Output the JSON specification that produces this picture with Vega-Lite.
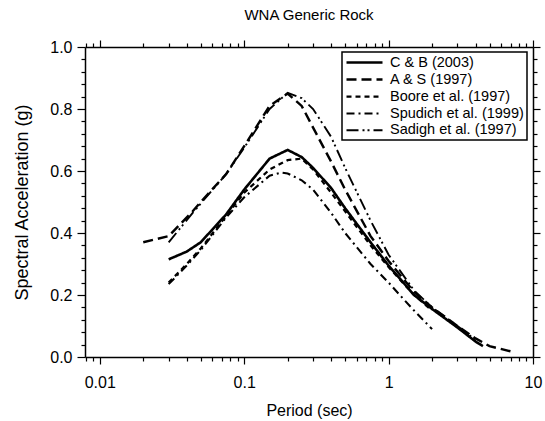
{
  "$schema": "https://vega.github.io/schema/vega-lite/v6.json",
  "width": 448,
  "height": 310,
  "autosize": {"type": "none"},
  "padding": {"left": 85, "top": 47, "right": 12, "bottom": 64},
  "background": "white",
  "config": {
    "view": {"stroke": null},
    "font": "Liberation Sans",
    "axis": {"domainColor": "black", "domainWidth": 1.5, "tickColor": "black", "tickWidth": 1.2, "grid": false, "labelColor": "black", "titleColor": "black", "labelFont": "Liberation Sans", "titleFont": "Liberation Sans", "titleFontWeight": "normal"},
    "legend": {"strokeWidth": 1.5}
  },
  "title": {"text": "WNA Generic Rock", "fontSize": 15, "fontWeight": "normal", "font": "Liberation Sans", "color": "black", "anchor": "middle", "offset": 16},
  "data": {"values": [
    {"model": "C & B (2003)", "T": 0.03, "SA": 0.315},
    {"model": "C & B (2003)", "T": 0.04, "SA": 0.34},
    {"model": "C & B (2003)", "T": 0.05, "SA": 0.37},
    {"model": "C & B (2003)", "T": 0.075, "SA": 0.46},
    {"model": "C & B (2003)", "T": 0.1, "SA": 0.54},
    {"model": "C & B (2003)", "T": 0.15, "SA": 0.64},
    {"model": "C & B (2003)", "T": 0.2, "SA": 0.668},
    {"model": "C & B (2003)", "T": 0.25, "SA": 0.645},
    {"model": "C & B (2003)", "T": 0.3, "SA": 0.61},
    {"model": "C & B (2003)", "T": 0.4, "SA": 0.545},
    {"model": "C & B (2003)", "T": 0.5, "SA": 0.48},
    {"model": "C & B (2003)", "T": 0.75, "SA": 0.37},
    {"model": "C & B (2003)", "T": 1, "SA": 0.295},
    {"model": "C & B (2003)", "T": 1.5, "SA": 0.2},
    {"model": "C & B (2003)", "T": 2, "SA": 0.155},
    {"model": "C & B (2003)", "T": 3, "SA": 0.095},
    {"model": "C & B (2003)", "T": 4, "SA": 0.05},
    {"model": "C & B (2003)", "T": 4.5, "SA": 0.035},
    {"model": "A & S (1997)", "T": 0.02, "SA": 0.37},
    {"model": "A & S (1997)", "T": 0.03, "SA": 0.39},
    {"model": "A & S (1997)", "T": 0.044, "SA": 0.47},
    {"model": "A & S (1997)", "T": 0.05, "SA": 0.5},
    {"model": "A & S (1997)", "T": 0.075, "SA": 0.59},
    {"model": "A & S (1997)", "T": 0.1, "SA": 0.68},
    {"model": "A & S (1997)", "T": 0.15, "SA": 0.81},
    {"model": "A & S (1997)", "T": 0.2, "SA": 0.85},
    {"model": "A & S (1997)", "T": 0.25, "SA": 0.81},
    {"model": "A & S (1997)", "T": 0.3, "SA": 0.74},
    {"model": "A & S (1997)", "T": 0.4, "SA": 0.63},
    {"model": "A & S (1997)", "T": 0.5, "SA": 0.54},
    {"model": "A & S (1997)", "T": 0.75, "SA": 0.39},
    {"model": "A & S (1997)", "T": 1, "SA": 0.31},
    {"model": "A & S (1997)", "T": 1.5, "SA": 0.21},
    {"model": "A & S (1997)", "T": 2, "SA": 0.16},
    {"model": "A & S (1997)", "T": 3, "SA": 0.1},
    {"model": "A & S (1997)", "T": 4, "SA": 0.06},
    {"model": "A & S (1997)", "T": 5, "SA": 0.035},
    {"model": "A & S (1997)", "T": 7.5, "SA": 0.015},
    {"model": "Boore et al. (1997)", "T": 0.03, "SA": 0.24},
    {"model": "Boore et al. (1997)", "T": 0.04, "SA": 0.3},
    {"model": "Boore et al. (1997)", "T": 0.05, "SA": 0.35},
    {"model": "Boore et al. (1997)", "T": 0.075, "SA": 0.455},
    {"model": "Boore et al. (1997)", "T": 0.1, "SA": 0.53},
    {"model": "Boore et al. (1997)", "T": 0.15, "SA": 0.605},
    {"model": "Boore et al. (1997)", "T": 0.2, "SA": 0.635},
    {"model": "Boore et al. (1997)", "T": 0.25, "SA": 0.64},
    {"model": "Boore et al. (1997)", "T": 0.3, "SA": 0.605},
    {"model": "Boore et al. (1997)", "T": 0.4, "SA": 0.53},
    {"model": "Boore et al. (1997)", "T": 0.5, "SA": 0.47},
    {"model": "Boore et al. (1997)", "T": 0.75, "SA": 0.36},
    {"model": "Boore et al. (1997)", "T": 1, "SA": 0.29},
    {"model": "Boore et al. (1997)", "T": 1.5, "SA": 0.2},
    {"model": "Boore et al. (1997)", "T": 2, "SA": 0.15},
    {"model": "Spudich et al. (1999)", "T": 0.03, "SA": 0.235},
    {"model": "Spudich et al. (1999)", "T": 0.04, "SA": 0.295},
    {"model": "Spudich et al. (1999)", "T": 0.05, "SA": 0.345},
    {"model": "Spudich et al. (1999)", "T": 0.075, "SA": 0.45},
    {"model": "Spudich et al. (1999)", "T": 0.1, "SA": 0.515},
    {"model": "Spudich et al. (1999)", "T": 0.15, "SA": 0.585},
    {"model": "Spudich et al. (1999)", "T": 0.18, "SA": 0.595},
    {"model": "Spudich et al. (1999)", "T": 0.2, "SA": 0.592},
    {"model": "Spudich et al. (1999)", "T": 0.25, "SA": 0.57},
    {"model": "Spudich et al. (1999)", "T": 0.3, "SA": 0.54},
    {"model": "Spudich et al. (1999)", "T": 0.4, "SA": 0.465},
    {"model": "Spudich et al. (1999)", "T": 0.5, "SA": 0.4},
    {"model": "Spudich et al. (1999)", "T": 0.75, "SA": 0.3},
    {"model": "Spudich et al. (1999)", "T": 1, "SA": 0.24},
    {"model": "Spudich et al. (1999)", "T": 1.25, "SA": 0.19},
    {"model": "Spudich et al. (1999)", "T": 1.5, "SA": 0.15},
    {"model": "Spudich et al. (1999)", "T": 2, "SA": 0.09},
    {"model": "Sadigh et al. (1997)", "T": 0.03, "SA": 0.37},
    {"model": "Sadigh et al. (1997)", "T": 0.044, "SA": 0.465},
    {"model": "Sadigh et al. (1997)", "T": 0.05, "SA": 0.495},
    {"model": "Sadigh et al. (1997)", "T": 0.075, "SA": 0.59},
    {"model": "Sadigh et al. (1997)", "T": 0.1, "SA": 0.675},
    {"model": "Sadigh et al. (1997)", "T": 0.15, "SA": 0.8},
    {"model": "Sadigh et al. (1997)", "T": 0.2, "SA": 0.852},
    {"model": "Sadigh et al. (1997)", "T": 0.25, "SA": 0.835},
    {"model": "Sadigh et al. (1997)", "T": 0.3, "SA": 0.8},
    {"model": "Sadigh et al. (1997)", "T": 0.4, "SA": 0.71},
    {"model": "Sadigh et al. (1997)", "T": 0.5, "SA": 0.61},
    {"model": "Sadigh et al. (1997)", "T": 0.75, "SA": 0.44},
    {"model": "Sadigh et al. (1997)", "T": 1, "SA": 0.33},
    {"model": "Sadigh et al. (1997)", "T": 1.5, "SA": 0.215},
    {"model": "Sadigh et al. (1997)", "T": 2, "SA": 0.16},
    {"model": "Sadigh et al. (1997)", "T": 3, "SA": 0.1},
    {"model": "Sadigh et al. (1997)", "T": 4, "SA": 0.055}
  ]},
  "resolve": {"axis": {"x": "independent", "y": "independent"}},
  "layer": [
    {
      "mark": {"type": "line", "color": "black", "strokeCap": "butt"},
      "encoding": {
        "x": {"field": "T", "type": "quantitative", "scale": {"type": "log", "domain": [0.0079, 10], "nice": false},
              "axis": {"orient": "bottom", "title": "Period (sec)", "values": [0.01, 0.1, 1, 10], "format": "~g", "tickSize": 7, "labelFontSize": 16, "labelPadding": 10, "titleFontSize": 16, "titlePadding": 12, "labelOverlap": false, "labelFlush": false}},
        "y": {"field": "SA", "type": "quantitative", "scale": {"domain": [0, 1], "nice": false},
              "axis": {"orient": "left", "title": "Spectral Acceleration (g)", "values": [0, 0.2, 0.4, 0.6, 0.8, 1.0], "format": ".1f", "tickSize": 8, "labelFontSize": 16, "labelPadding": 5, "titleFontSize": 18, "titlePadding": 18, "labelOverlap": false, "labelFlush": false}},
        "strokeDash": {"field": "model", "type": "nominal",
          "scale": {"domain": ["C & B (2003)", "A & S (1997)", "Boore et al. (1997)", "Spudich et al. (1999)", "Sadigh et al. (1997)"],
                    "range": [[1, 0], [10, 5], [5, 4], [8, 4, 2, 4], [12, 4, 2, 3, 2, 4]]},
          "legend": {"title": null, "orient": "none", "legendX": 257, "legendY": 5, "symbolType": "M-3,0H3", "symbolSize": 144, "symbolOffset": 12, "symbolStrokeWidth": 2, "symbolStrokeColor": "black", "symbolFillColor": "transparent", "labelFontSize": 14.5, "labelFont": "Liberation Sans", "labelColor": "black", "labelOffset": 18, "strokeColor": "black", "fillColor": "white", "padding": 3, "rowPadding": 2, "cornerRadius": 0}},
        "strokeWidth": {"field": "model", "type": "nominal",
          "scale": {"domain": ["C & B (2003)", "A & S (1997)", "Boore et al. (1997)", "Spudich et al. (1999)", "Sadigh et al. (1997)"], "range": [2.6, 1.9, 1.9, 1.9, 1.9]},
          "legend": null}
      }
    },
    {
      "mark": {"type": "point", "opacity": 0},
      "encoding": {
        "x": {"field": "T", "type": "quantitative", "scale": {"type": "log", "domain": [0.0079, 10], "nice": false},
              "axis": {"orient": "bottom", "title": null, "labels": false, "domain": false, "tickSize": 4, "values": [0.008, 0.009, 0.02, 0.03, 0.04, 0.05, 0.06, 0.07, 0.08, 0.09, 0.2, 0.3, 0.4, 0.5, 0.6, 0.7, 0.8, 0.9, 2, 3, 4, 5, 6, 7, 8, 9]}},
        "y": {"field": "SA", "type": "quantitative", "scale": {"domain": [0, 1], "nice": false},
              "axis": {"orient": "left", "title": null, "labels": false, "domain": false, "tickSize": 4, "values": [0.04, 0.08, 0.12, 0.16, 0.24, 0.28, 0.32, 0.36, 0.44, 0.48, 0.52, 0.56, 0.64, 0.68, 0.72, 0.76, 0.84, 0.88, 0.92, 0.96]}}
      }
    },
    {
      "mark": {"type": "point", "opacity": 0},
      "encoding": {
        "x": {"field": "T", "type": "quantitative", "scale": {"type": "log", "domain": [0.0079, 10], "nice": false},
              "axis": {"orient": "top", "title": null, "labels": false, "tickSize": 7, "values": [0.01, 0.1, 1, 10]}},
        "y": {"field": "SA", "type": "quantitative", "scale": {"domain": [0, 1], "nice": false},
              "axis": {"orient": "right", "title": null, "labels": false, "tickSize": 7, "values": [0, 0.2, 0.4, 0.6, 0.8, 1.0]}}
      }
    },
    {
      "mark": {"type": "point", "opacity": 0},
      "encoding": {
        "x": {"field": "T", "type": "quantitative", "scale": {"type": "log", "domain": [0.0079, 10], "nice": false},
              "axis": {"orient": "top", "title": null, "labels": false, "domain": false, "tickSize": 4, "values": [0.008, 0.009, 0.02, 0.03, 0.04, 0.05, 0.06, 0.07, 0.08, 0.09, 0.2, 0.3, 0.4, 0.5, 0.6, 0.7, 0.8, 0.9, 2, 3, 4, 5, 6, 7, 8, 9]}},
        "y": {"field": "SA", "type": "quantitative", "scale": {"domain": [0, 1], "nice": false},
              "axis": {"orient": "right", "title": null, "labels": false, "domain": false, "tickSize": 4, "values": [0.04, 0.08, 0.12, 0.16, 0.24, 0.28, 0.32, 0.36, 0.44, 0.48, 0.52, 0.56, 0.64, 0.68, 0.72, 0.76, 0.84, 0.88, 0.92, 0.96]}}
      }
    }
  ]
}
